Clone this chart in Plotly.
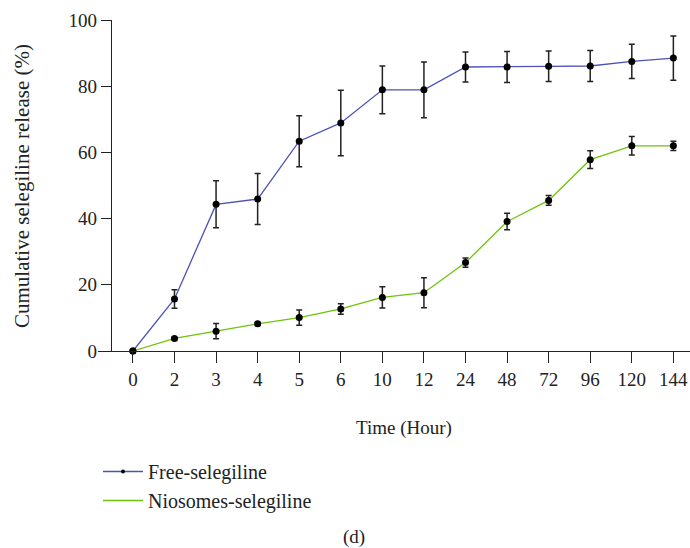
import plotly.graph_objects as go

time_labels = ["0", "2", "3", "4", "5", "6", "10", "12", "24", "48", "72", "96", "120", "144"]
free_vals = [0, 15.7, 44.3, 45.9, 63.4, 68.9, 78.9, 78.9, 85.8, 85.8, 86.0, 86.1, 87.5, 88.5]
free_err = [0, 2.8, 7.1, 7.7, 7.7, 9.9, 7.2, 8.4, 4.5, 4.7, 4.6, 4.7, 5.2, 6.7]
nio_vals = [0, 3.8, 6.0, 8.2, 10.1, 12.7, 16.2, 17.6, 26.7, 39.1, 45.5, 57.8, 62.0, 62.0]
nio_err = [0, 0.4, 2.3, 0.5, 2.3, 1.6, 3.2, 4.5, 1.4, 2.5, 1.5, 2.7, 2.8, 1.4]

BLUE = "#4b52b8"
GREEN = "#6dc40a"
FONT = "Liberation Serif"
FS = 19

xi = list(range(len(time_labels)))

fig = go.Figure()
for vals, err, col in [(free_vals, free_err, BLUE), (nio_vals, nio_err, GREEN)]:
    fig.add_trace(go.Scatter(
        x=xi, y=vals, mode="lines+markers",
        line=dict(color=col, width=1.3),
        marker=dict(color="black", size=7),
        error_y=dict(type="data", array=err, visible=True, color="#222222", thickness=1.5, width=3),
        showlegend=False, cliponaxis=False,
    ))

fig.add_trace(go.Scatter(x=[None], y=[None], mode="lines+markers", name="Free-selegiline",
                         line=dict(color=BLUE, width=1.5), marker=dict(color="black", size=4)))
fig.add_trace(go.Scatter(x=[None], y=[None], mode="lines", name="Niosomes-selegiline",
                         line=dict(color=GREEN, width=1.5)))

fig.update_layout(
    width=690, height=548,
    margin=dict(l=98, r=0, t=20, b=197),
    plot_bgcolor="white", paper_bgcolor="white",
    font=dict(family=FONT, size=FS, color="#222222"),
    xaxis=dict(
        range=[-0.84, 13.4], tickmode="array", tickvals=xi, ticktext=time_labels,
        showline=True, linecolor="#222222", linewidth=1.3,
        ticks="outside", ticklen=11, tickwidth=1.3, tickcolor="#222222",
        showgrid=False, zeroline=False, tickfont=dict(size=FS),
    ),
    yaxis=dict(
        range=[0, 100], tickvals=[0, 20, 40, 60, 80, 100],
        anchor="free", position=0.022,
        showline=True, linecolor="#222222", linewidth=1.3,
        ticks="outside", ticklen=10, tickwidth=1.3, tickcolor="#222222",
        showgrid=False, zeroline=False, tickfont=dict(size=FS),
    ),
    legend=dict(x=0.0, y=-0.305, xanchor="left", yanchor="top", xref="paper", yref="paper",
                font=dict(size=20), tracegroupgap=0, itemwidth=40, bgcolor="rgba(0,0,0,0)"),
    annotations=[
        dict(text="Cumulative selegiline release (%)", textangle=-90, xref="paper", yref="paper",
             x=(22 - 98) / 592, y=(351 - 186) / 331, xanchor="center", yanchor="middle",
             showarrow=False, font=dict(size=21)),
        dict(text="Time (Hour)", xref="paper", yref="paper",
             x=(404 - 98) / 592, y=(351 - 428) / 331, xanchor="center", yanchor="middle",
             showarrow=False, font=dict(size=FS)),
        dict(text="(d)", xref="paper", yref="paper",
             x=(354 - 98) / 592, y=(351 - 537) / 331, xanchor="center", yanchor="middle",
             showarrow=False, font=dict(size=FS)),
    ],
)

fig.write_html("out.html")
